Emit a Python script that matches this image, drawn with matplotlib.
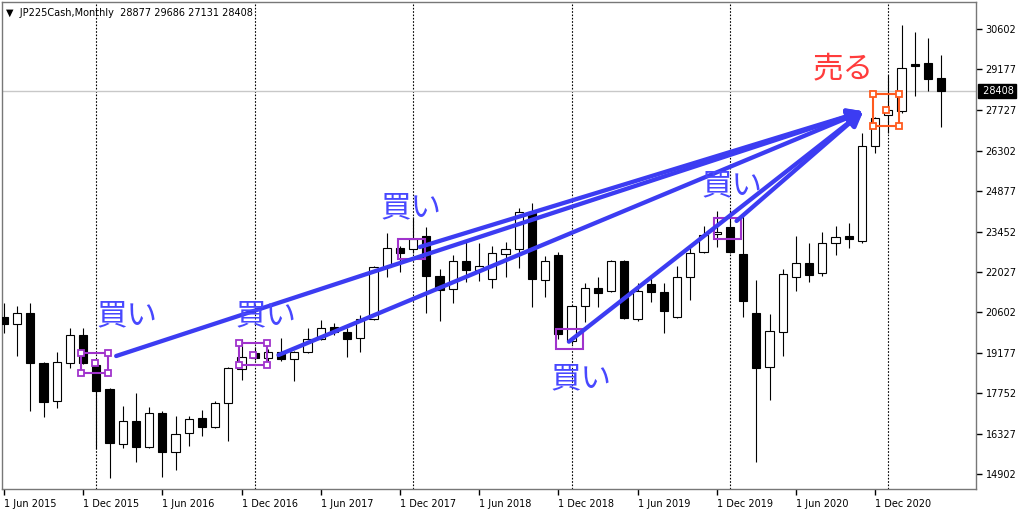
import numpy as np
import pandas as pd
import matplotlib
matplotlib.use('Agg')
import matplotlib.pyplot as plt
from matplotlib.patches import Rectangle
from matplotlib.transforms import blended_transform_factory

plt.rcParams['font.family'] = ['DejaVu Sans', 'Noto Sans CJK JP']

# Monthly JP225 candles, Jun 2015 .. May 2021
months = pd.date_range('2015-06-01', periods=72, freq='MS')
opens = [20450, 20195, 20570, 18830, 17490, 18810, 19805, 18750, 17890, 15960, 16770, 15865,
         17065, 15690, 16360, 16890, 16550, 17395, 18605, 19160, 18985, 19195, 18960, 19215,
         19665, 20080, 19900, 19690, 20360, 22215, 22885, 22830, 23300, 21890, 21420, 22430,
         22100, 21770, 22665, 22830, 24155, 21745, 22630, 19595, 20840, 21455, 21370, 22430,
         20370, 21605, 21335, 20430, 21865, 22745, 23360, 23625, 22665, 20595, 18690, 19910,
         21840, 22335, 21985, 23065, 23300, 23125, 26475, 27570, 27710, 29355, 29415, 28877]
highs = [20950, 20840, 20950, 18865, 19205, 20065, 20065, 18830, 17925, 17300, 17770, 17275,
         17135, 16950, 16950, 17160, 17490, 18665, 19665, 19380, 19315, 19710, 19240, 20065,
         20335, 20220, 20040, 20510, 22240, 23415, 22945, 23985, 23605, 22125, 22630, 23100,
         23040, 22945, 23100, 24275, 24475, 22595, 22745, 20860, 21630, 21865, 22450, 22450,
         21630, 21805, 21630, 22240, 22920, 23650, 24170, 24215, 24040, 21745, 20535, 22125,
         23300, 23040, 23450, 23650, 23745, 26945, 27500, 28980, 30745, 30485, 30275, 29686]
lows = [19870, 19065, 17135, 16900, 17220, 18630, 18800, 15775, 14750, 15830, 15315, 15810,
        14805, 15045, 15890, 16245, 16515, 16075, 18220, 18925, 18890, 18890, 18195, 19160,
        19630, 19805, 19040, 19215, 20340, 21840, 22040, 22690, 20570, 20310, 20925, 21690,
        21700, 21455, 21840, 22160, 20785, 21155, 19650, 19480, 20255, 20805, 21335, 20370,
        20310, 20980, 19865, 20395, 21040, 22690, 22920, 22700, 20450, 15335, 17515, 19065,
        21370, 21690, 21890, 22630, 22885, 23040, 26215, 26920, 27650, 28250, 28425, 27131]
closes = [20185, 20570, 18810, 17455, 18845, 19805, 18830, 17840, 15985, 16770, 15845, 17065,
          15690, 16315, 16855, 16550, 17395, 18630, 19040, 19005, 19215, 18960, 19215, 19665,
          20065, 19900, 19665, 20360, 22195, 22865, 22710, 23185, 21890, 21395, 22430, 22100,
          22240, 22690, 22830, 24155, 21770, 22430, 19830, 20840, 21455, 21275, 22415, 20395,
          21360, 21335, 20665, 21865, 22710, 23335, 23450, 22745, 21015, 18650, 19945, 21950,
          22335, 21925, 23065, 23275, 23185, 26485, 27450, 27745, 29235, 29310, 28840, 28408]

price_ticks = [30602, 29177, 27727, 26302, 24877, 23452, 22027, 20602, 19177, 17752, 16327, 14902]
last_price = 28408

# hand-drawn annotations, in (month index, price)
buy_line_x = [8.5, 20.8, 31.5, 42.8, 55.5]
buy_line_y = [19065, 19100, 22910, 19570, 23830]
arrow_tip = (65.1, 27700)
buy_box_x = [(5.83, 7.9), (17.83, 19.9), (29.85, 31.9), (41.8, 43.9), (53.8, 55.8)]
buy_box_y = [(18476, 19182), (18748, 19513), (22477, 23193), (19302, 20018), (23193, 23923)]
buy_box_anchor = [(6.89, 18836), (18.89, 19101), None, None, None]
buy_text_x = [9.32, 19.85, 30.83, 43.7, 55.15]
buy_text_y = [20477, 20477, 24287, 18254, 25063]
sell_box_x = (65.8, 67.8)
sell_box_y = (27180, 28298)
sell_anchor = (66.8, 27744)
sell_text = (63.6, 29191)

blue = '#3c3cf2'
purple = '#a033cc'
orange = '#ff5a1e'

fig = plt.figure(figsize=(10.24, 5.09), dpi=100)
ax = fig.add_axes([2 / 1024, 20 / 509, 974 / 1024, 487 / 509])

x = np.arange(len(months))
o = np.array(opens)
c = np.array(closes)
up = c >= o

# year separators and bid line
for i in x[months.month == 1]:
    ax.axvline(i, color='black', ls=(0, (1.5, 1.5)), lw=0.8, zorder=1)
ax.axhline(last_price, color='#c8c8c8', lw=1, zorder=1)

# candles
ax.vlines(x, lows, highs, color='black', lw=0.8, zorder=2)
ax.bar(x, np.maximum(np.abs(c - o), 8), bottom=np.minimum(o, c), width=0.62,
       color=np.where(up, 'white', 'black'), edgecolor='black', lw=0.8, zorder=3)


def draw_box(xr, yr, color, anchor):
    ax.add_patch(Rectangle((xr[0], yr[0]), xr[1] - xr[0], yr[1] - yr[0],
                           fill=False, edgecolor=color, lw=1.5, zorder=5))
    if anchor is not None:
        hx = [xr[0], xr[1], xr[0], xr[1], anchor[0]]
        hy = [yr[0], yr[0], yr[1], yr[1], anchor[1]]
        ax.plot(hx, hy, ls='none', marker='s', ms=4.5, mfc='white', mec=color,
                mew=1.3, zorder=6)


for bx, by, an in zip(buy_box_x, buy_box_y, buy_box_anchor):
    draw_box(bx, by, purple, an)
draw_box(sell_box_x, sell_box_y, orange, sell_anchor)

# arrows from each buy point to the sell point
for sx, sy in zip(buy_line_x, buy_line_y):
    ax.annotate('', xy=arrow_tip, xytext=(sx, sy),
                arrowprops=dict(arrowstyle='-|>', color=blue, lw=3.1,
                                mutation_scale=22, shrinkA=0, shrinkB=0),
                zorder=7)

for tx, ty in zip(buy_text_x, buy_text_y):
    ax.text(tx, ty, '買い', color='#4848ff', fontsize=22, ha='center', va='center',
            family=['Noto Sans CJK JP'], zorder=8)
ax.text(sell_text[0], sell_text[1], '売る', color='#ff3c3c', fontsize=22,
        ha='center', va='center', family=['Noto Sans CJK JP'], zorder=8)

# header
ax.text(0.004, 0.988, '▼  JP225Cash,Monthly  28877 29686 27131 28408',
        transform=ax.transAxes, fontsize=7, va='top', ha='left', color='black')

# axes
ax.set_xlim(-0.15, 73.64)
ax.set_ylim(14373, 31555)
ax.set_xticks(x[::6])
ax.set_xticklabels([f'1 {d:%b %Y}' for d in months[::6]])
for lbl in ax.get_xticklabels():
    lbl.set_ha('left')
ax.yaxis.tick_right()
ax.set_yticks(price_ticks)
ax.set_yticklabels([str(p) for p in price_ticks])
ax.tick_params(axis='x', length=4, width=1, pad=3, labelsize=7)
ax.tick_params(axis='y', length=4, width=1, pad=3, labelsize=7)
for sp in ax.spines.values():
    sp.set_color('#777777')
    sp.set_linewidth(1)

# current price tag
trans = blended_transform_factory(ax.transAxes, ax.transData)
ax.text(1.004, last_price, ' 28408', transform=trans, fontsize=7, color='white',
        ha='left', va='center', bbox=dict(facecolor='black', edgecolor='black', pad=1.5),
        zorder=10, clip_on=False)

fig.savefig('out.png', dpi=100, facecolor='white')
